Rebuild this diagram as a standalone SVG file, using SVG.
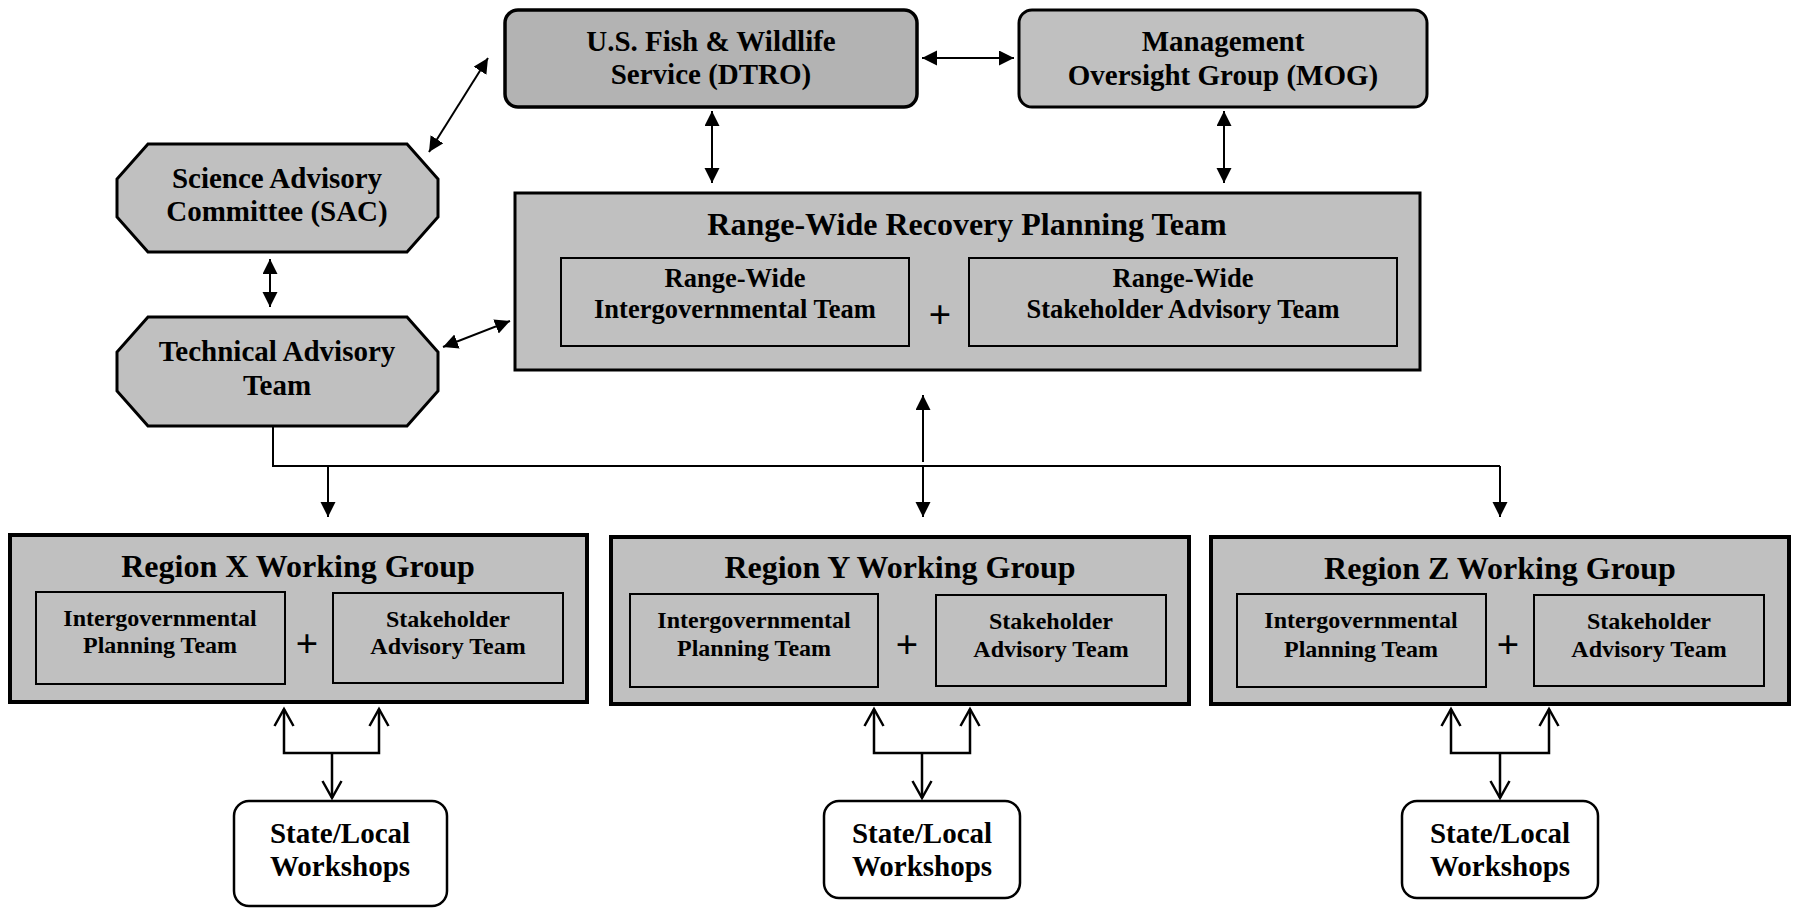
<svg xmlns="http://www.w3.org/2000/svg" width="1796" height="908" viewBox="0 0 1796 908">
<style>
text{font-family:"Liberation Serif","Times New Roman",serif;font-weight:bold;text-anchor:middle;fill:#000}
.t29{font-size:29px}
.t32{font-size:32px}
.t26{font-size:26.5px}
.t24{font-size:24px}
.plus{font-size:40px}
.box{fill:#c0c0c0;stroke:#000;stroke-width:3}
.dark{fill:#b3b3b3;stroke:#000;stroke-width:3.5}
.region{fill:#c0c0c0;stroke:#000;stroke-width:4}
.inner{fill:#c0c0c0;stroke:#000;stroke-width:2}
.ws{fill:#fff;stroke:#000;stroke-width:2.5}
.conn{fill:none;stroke:#000;stroke-width:2}
.dbl{marker-start:url(#fa);marker-end:url(#fa)}
.one{marker-end:url(#fa)}
.open{fill:none;stroke:#000;stroke-width:2.5;marker-end:url(#oa)}
</style>
<defs>
<marker id="fa" markerUnits="userSpaceOnUse" markerWidth="16" markerHeight="16" refX="15" refY="7.5" orient="auto-start-reverse" viewBox="0 0 16 16">
<path d="M0,0 L15,7.5 L0,15 z" fill="#000"/>
</marker>
<marker id="oa" markerUnits="userSpaceOnUse" markerWidth="22" markerHeight="24" refX="18" refY="11" orient="auto" viewBox="0 0 22 24">
<path d="M1,1.5 L18,11 L1,20.5" fill="none" stroke="#000" stroke-width="2.5"/>
</marker>
</defs>

<g id="connectors">
<line class="conn dbl" x1="488" y1="58" x2="429" y2="152"/>
<line class="conn dbl" x1="922" y1="58" x2="1014" y2="58"/>
<line class="conn dbl" x1="712" y1="111" x2="712" y2="183"/>
<line class="conn dbl" x1="1224" y1="111" x2="1224" y2="183"/>
<line class="conn dbl" x1="270" y1="259" x2="270" y2="307"/>
<line class="conn dbl" x1="443" y1="347" x2="510" y2="321"/>
<polyline class="conn" points="273,426 273,466 1500,466"/>
<line class="conn one" x1="328" y1="466" x2="328" y2="517"/>
<line class="conn one" x1="1500" y1="466" x2="1500" y2="517"/>
<line class="conn one" x1="923" y1="462" x2="923" y2="395"/>
<line class="conn one" x1="923" y1="467" x2="923" y2="517"/>
<polyline class="open" points="332,753 284,753 284,709"/>
<polyline class="open" points="332,753 379,753 379,709"/>
<line class="open" x1="332" y1="753" x2="332" y2="798"/>
<polyline class="open" points="922,753 874,753 874,709"/>
<polyline class="open" points="922,753 970,753 970,709"/>
<line class="open" x1="922" y1="753" x2="922" y2="798"/>
<polyline class="open" points="1500,753 1451,753 1451,709"/>
<polyline class="open" points="1500,753 1549,753 1549,709"/>
<line class="open" x1="1500" y1="753" x2="1500" y2="798"/>
</g>

<g id="dtro">
<rect class="dark" x="505" y="10" width="412" height="97" rx="13"/>
<text class="t29" x="711" y="51">U.S. Fish &amp; Wildlife</text>
<text class="t29" x="711" y="84">Service (DTRO)</text>
</g>

<g id="mog">
<rect class="box" x="1019" y="10" width="408" height="97" rx="13"/>
<text class="t29" x="1223" y="51">Management</text>
<text class="t29" x="1223" y="85">Oversight Group (MOG)</text>
</g>

<g id="sac">
<polygon class="box" points="148,144 407,144 438,179 438,217 407,252 148,252 117,217 117,179"/>
<text class="t29" x="277" y="188">Science Advisory</text>
<text class="t29" x="277" y="221">Committee (SAC)</text>
</g>

<g id="tat">
<polygon class="box" points="148,317 407,317 438,352 438,391 407,426 148,426 117,391 117,352"/>
<text class="t29" x="277" y="361">Technical Advisory</text>
<text class="t29" x="277" y="395">Team</text>
</g>

<g id="rwrpt">
<rect class="box" x="515" y="193" width="905" height="177"/>
<text class="t32" x="967" y="235">Range-Wide Recovery Planning Team</text>
<rect class="inner" x="561" y="258" width="348" height="88"/>
<text class="t26" x="735" y="287">Range-Wide</text>
<text class="t26" x="735" y="318">Intergovernmental Team</text>
<text class="plus" x="940" y="328">+</text>
<rect class="inner" x="969" y="258" width="428" height="88"/>
<text class="t26" x="1183" y="287">Range-Wide</text>
<text class="t26" x="1183" y="318">Stakeholder Advisory Team</text>
</g>

<g id="region-x">
<rect class="region" x="10" y="535" width="577" height="167"/>
<text class="t32" x="298" y="577">Region X Working Group</text>
<rect class="inner" x="36" y="592" width="249" height="92"/>
<text class="t24" x="160" y="626">Intergovernmental</text>
<text class="t24" x="160" y="653">Planning Team</text>
<text class="plus" x="307" y="657">+</text>
<rect class="inner" x="333" y="593" width="230" height="90"/>
<text class="t24" x="448" y="627">Stakeholder</text>
<text class="t24" x="448" y="654">Advisory Team</text>
</g>

<g id="region-y">
<rect class="region" x="611" y="537" width="578" height="167"/>
<text class="t32" x="900" y="578">Region Y Working Group</text>
<rect class="inner" x="630" y="594" width="248" height="93"/>
<text class="t24" x="754" y="628">Intergovernmental</text>
<text class="t24" x="754" y="656">Planning Team</text>
<text class="plus" x="907" y="658">+</text>
<rect class="inner" x="936" y="595" width="230" height="91"/>
<text class="t24" x="1051" y="629">Stakeholder</text>
<text class="t24" x="1051" y="657">Advisory Team</text>
</g>

<g id="region-z">
<rect class="region" x="1211" y="537" width="578" height="167"/>
<text class="t32" x="1500" y="579">Region Z Working Group</text>
<rect class="inner" x="1237" y="594" width="249" height="93"/>
<text class="t24" x="1361" y="628">Intergovernmental</text>
<text class="t24" x="1361" y="657">Planning Team</text>
<text class="plus" x="1508" y="658">+</text>
<rect class="inner" x="1534" y="595" width="230" height="91"/>
<text class="t24" x="1649" y="629">Stakeholder</text>
<text class="t24" x="1649" y="657">Advisory Team</text>
</g>

<g id="workshops-x">
<rect class="ws" x="234" y="801" width="213" height="105" rx="15"/>
<text class="t29" x="340" y="843">State/Local</text>
<text class="t29" x="340" y="876">Workshops</text>
</g>

<g id="workshops-y">
<rect class="ws" x="824" y="801" width="196" height="97" rx="15"/>
<text class="t29" x="922" y="843">State/Local</text>
<text class="t29" x="922" y="876">Workshops</text>
</g>

<g id="workshops-z">
<rect class="ws" x="1402" y="801" width="196" height="97" rx="15"/>
<text class="t29" x="1500" y="843">State/Local</text>
<text class="t29" x="1500" y="876">Workshops</text>
</g>
</svg>
